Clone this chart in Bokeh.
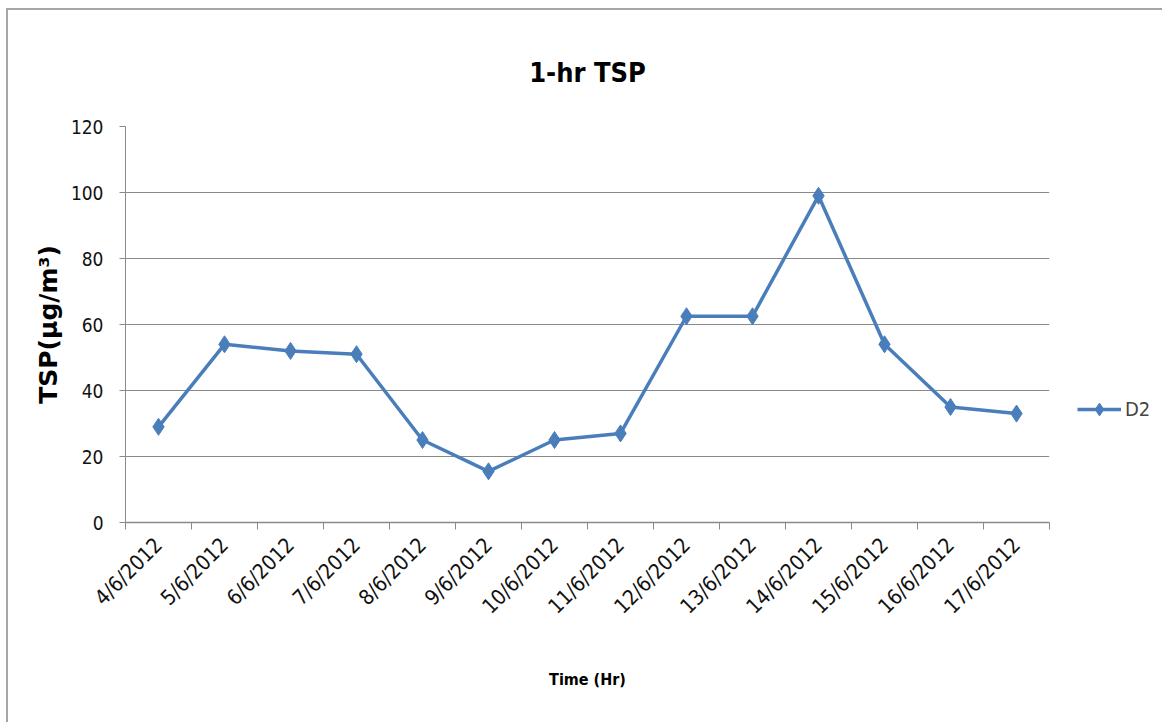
import math
from bokeh.plotting import figure
from bokeh.models import (FixedTicker, Legend, LegendItem, Title, ColumnDataSource, Range1d)
from bokeh.embed import file_html
from bokeh.resources import INLINE

dates = ["4/6/2012", "5/6/2012", "6/6/2012", "7/6/2012", "8/6/2012", "9/6/2012",
         "10/6/2012", "11/6/2012", "12/6/2012", "13/6/2012", "14/6/2012", "15/6/2012",
         "16/6/2012", "17/6/2012"]
d2 = [29, 54, 52, 51, 25, 15.5, 25, 27, 62.5, 62.5, 99, 54, 35, 33]
y_ticks = [0, 20, 40, 60, 80, 100, 120]

n = len(dates)
centers = [i + 0.5 for i in range(n)]
bounds = [float(i) for i in range(n + 1)]

BLUE = "#4a7ebb"
GRID = "#8a8a8a"
NARROW = "DejaVu Sans Condensed, Liberation Sans Narrow, Roboto, sans-serif"

p = figure(width=1150, height=712, output_backend="svg", toolbar_location=None,
           x_range=Range1d(0, n), y_range=Range1d(0, 120),
           min_border_left=117, min_border_right=109, min_border_top=116, min_border_bottom=200,
           frame_width=924, frame_height=396)
p.title = None
p.outline_line_color = None
p.background_fill_color = "white"
p.border_fill_color = "white"
p.styles = {"margin-left": "6px", "margin-top": "8px",
            "border-top": "2px solid #a6a6a6", "border-left": "2px solid #a6a6a6"}

title = Title(text="1-hr TSP", align="center", text_font=NARROW, text_font_size="27px",
              text_font_style="bold", text_color="#000000", standoff=77)
p.add_layout(title, "above")

src = ColumnDataSource(dict(x=centers, y=d2))
ln = p.line("x", "y", source=src, line_color=BLUE, line_width=3.5)
mk = p.scatter("x", "y", source=src, marker="diamond", size=17, fill_color=BLUE, line_color=BLUE)

# x axis
xa = p.xaxis[0]
xa.ticker = FixedTicker(ticks=centers, minor_ticks=bounds)
xa.major_label_overrides = {c: d for c, d in zip(centers, dates)}
xa.major_tick_line_color = None
xa.minor_tick_line_color = GRID
xa.minor_tick_out = 7
xa.minor_tick_in = 0
xa.axis_line_color = GRID
xa.axis_line_width = 1.5
xa.major_label_orientation = math.pi / 4
xa.major_label_text_font = NARROW
xa.major_label_text_font_size = "21px"
xa.major_label_text_color = "#111111"
xa.major_label_standoff = 12
xa.axis_label = "Time (Hr)"
xa.axis_label_text_font = NARROW
xa.axis_label_text_font_size = "16px"
xa.axis_label_text_font_style = "bold"
xa.axis_label_text_color = "#000000"
xa.axis_label_standoff = 40

ya = p.yaxis[0]
ya.ticker = FixedTicker(ticks=y_ticks)
ya.major_tick_line_color = GRID
ya.major_tick_out = 6
ya.major_tick_in = 0
ya.minor_tick_line_color = None
ya.axis_line_color = GRID
ya.major_label_text_font = NARROW
ya.major_label_text_font_size = "19px"
ya.major_label_text_color = "#111111"
ya.major_label_standoff = 16
ya.axis_label = "TSP(µg/m³)"
ya.axis_label_text_font = "DejaVu Sans"
ya.axis_label_text_font_size = "25px"
ya.axis_label_text_font_style = "bold"
ya.axis_label_text_color = "#000000"
ya.axis_label_standoff = 5

p.xgrid.grid_line_color = None
p.ygrid.grid_line_color = GRID
p.ygrid.grid_line_width = 1.2
p.ygrid.ticker = FixedTicker(ticks=y_ticks)

legend = Legend(items=[LegendItem(label="D2", renderers=[ln, mk])],
                location=(28, 97), background_fill_alpha=0, border_line_color=None,
                label_text_font=NARROW, label_text_font_size="20px", glyph_width=44,
                glyph_height=32, label_height=32,
                label_standoff=4, padding=0, margin=0)
p.add_layout(legend, "right")

open("out.html", "w").write(file_html(p, INLINE))
